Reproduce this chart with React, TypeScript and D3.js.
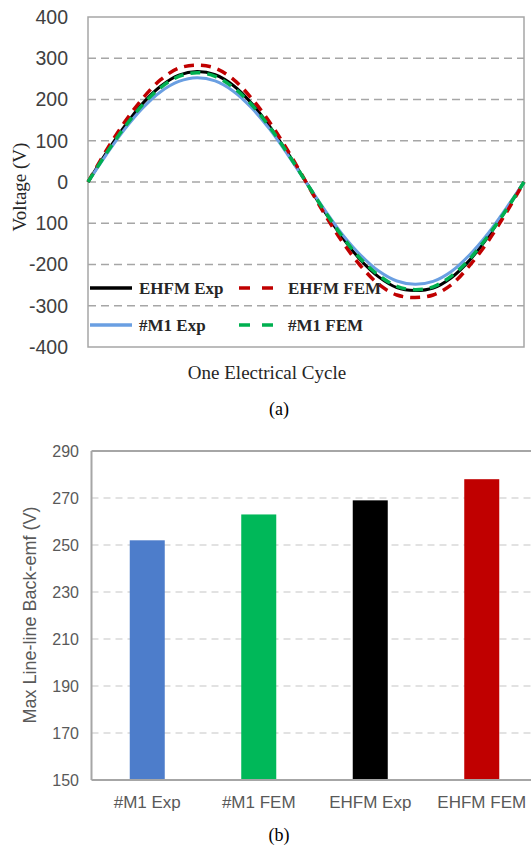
import React from "react";
import * as d3 from "d3";

// 電気角 (deg) — one electrical cycle
const angles = [0, 15, 30, 45, 60, 75, 90, 105, 120, 135, 150, 165, 180, 195, 210, 225, 240, 255, 270, 285, 300, 315, 330, 345, 360];
const ehfmExp = [0, 70, 134, 190, 232, 259, 268, 260, 234, 191, 135, 70, 0, -70, -134, -189, -230, -256, -263, -257, -232, -190, -134, -69, 0];
const ehfmFem = [0, 76, 144, 202, 248, 276, 283, 276, 249, 203, 145, 76, 0, -76, -145, -203, -248, -274, -280, -274, -249, -203, -145, -76, 0];
const m1Exp = [0, 66, 127, 179, 219, 244, 253, 245, 220, 180, 128, 66, 0, -66, -127, -177, -216, -240, -248, -241, -217, -177, -126, -65, 0];
const m1Fem = [0, 69, 132, 187, 229, 256, 265, 256, 229, 188, 133, 69, 0, -69, -132, -186, -226, -253, -261, -254, -228, -187, -132, -69, 0];

const voltTicks = [400, 300, 200, 100, 0, -100, -200, -300, -400];
const voltTickLabels = ["400", "300", "200", "100", "0", "100", "-200", "-300", "-400"];

const barNames = ["#M1 Exp", "#M1 FEM", "EHFM Exp", "EHFM FEM"];
const barValues = [252, 263, 269, 278];
const barTicks = [150, 170, 190, 210, 230, 250, 270, 290];

const lineSeries = [
  { name: "EHFM Exp", values: ehfmExp, color: "#000000", dash: "" },
  { name: "#M1 Exp", values: m1Exp, color: "#6A9FE2", dash: "" },
  { name: "EHFM FEM", values: ehfmFem, color: "#C00000", dash: "10,7" },
  { name: "#M1 FEM", values: m1Fem, color: "#00B050", dash: "10,7" },
];
const barColors = ["#4D7DCB", "#00B859", "#000000", "#C00000"];

const serif = "'Liberation Serif', 'Times New Roman', serif";
const sans = "'Liberation Sans', Arial, sans-serif";

const App: React.FC = () => {
  // (a) 波形
  const ax = { left: 88, right: 524, top: 17, bottom: 347 };
  const x = d3.scaleLinear().domain([0, 360]).range([ax.left, ax.right]);
  const y = d3.scaleLinear().domain([-400, 400]).range([ax.bottom, ax.top]);
  const line = d3
    .line<number>()
    .x((_, i) => x(angles[i]))
    .y((d) => y(d))
    .curve(d3.curveCatmullRom);

  // (b) 棒グラフ
  const bx = { left: 91.5, right: 537.5, top: 451, bottom: 780 };
  const xb = d3.scaleBand().domain(barNames).range([bx.left, bx.right]).paddingInner(0.686).paddingOuter(0.343);
  const yb = d3.scaleLinear().domain([150, 290]).range([bx.bottom, bx.top]);

  const legend = [
    { s: lineSeries[0], lx: 90, ty: 288 },
    { s: lineSeries[2], lx: 239, ty: 288 },
    { s: lineSeries[1], lx: 90, ty: 325 },
    { s: lineSeries[3], lx: 239, ty: 325 },
  ];

  return (
    <svg width={531} height={847} style={{ position: "absolute", left: 0, top: 0, background: "#fff" }}>
      <rect width={531} height={847} fill="#fff" />
      {/* grid (a) */}
      {voltTicks
        .filter((t) => t !== 400 && t !== -400)
        .map((t) => (
          <line key={t} x1={ax.left} x2={ax.right} y1={y(t)} y2={y(t)} stroke="#A6A6A6" strokeWidth={1.5} strokeDasharray="8,5" />
        ))}
      <rect x={ax.left} y={ax.top} width={ax.right - ax.left} height={ax.bottom - ax.top} fill="none" stroke="#A6A6A6" strokeWidth={1.5} />
      {voltTicks.map((t, i) => (
        <text key={t} x={68} y={y(t)} dy="0.35em" textAnchor="end" fontFamily={sans} fontSize={19.5} fill="#404040">
          {voltTickLabels[i]}
        </text>
      ))}
      {lineSeries.map((s) => (
        <path key={s.name} d={line(s.values) || ""} fill="none" stroke={s.color} strokeWidth={s.dash ? 3.5 : 3} strokeDasharray={s.dash || undefined} />
      ))}
      {legend.map(({ s, lx, ty }) => (
        <g key={s.name}>
          <line x1={lx} x2={lx + 42} y1={ty} y2={ty} stroke={s.color} strokeWidth={3.5} strokeDasharray={s.dash ? "11,12" : undefined} />
          <text x={lx + 49} y={ty} dy="0.35em" fontFamily={serif} fontWeight="bold" fontSize={17} fill="#262626">
            {s.name}
          </text>
        </g>
      ))}
      <text transform={`translate(19,${(ax.top + ax.bottom) / 2 + 5}) rotate(-90)`} textAnchor="middle" dy="0.35em" fontFamily={serif} fontSize={19} fill="#262626">
        Voltage (V)
      </text>
      <text x={267} y={372} dy="0.35em" textAnchor="middle" fontFamily={serif} fontSize={19} fill="#262626">
        One Electrical Cycle
      </text>
      <text x={279} y={409} dy="0.35em" textAnchor="middle" fontFamily={serif} fontSize={18} fill="#000">
        (a)
      </text>

      {/* grid (b) */}
      {barTicks
        .filter((t) => t !== 150 && t !== 290)
        .map((t) => (
          <line key={t} x1={bx.left} x2={531} y1={yb(t)} y2={yb(t)} stroke="#D9D9D9" strokeWidth={1.5} strokeDasharray="7,5" />
        ))}
      {barNames.map((n, i) => (
        <rect key={n} x={xb(n)} y={yb(barValues[i])} width={xb.bandwidth()} height={bx.bottom - yb(barValues[i])} fill={barColors[i]} />
      ))}
      <line x1={bx.left} x2={531} y1={bx.top} y2={bx.top} stroke="#A6A6A6" strokeWidth={2} />
      <line x1={bx.left} x2={531} y1={bx.bottom} y2={bx.bottom} stroke="#A6A6A6" strokeWidth={2} />
      <line x1={bx.left} x2={bx.left} y1={bx.top} y2={bx.bottom} stroke="#A6A6A6" strokeWidth={2} />
      {barTicks.map((t) => (
        <text key={t} x={79} y={yb(t)} dy="0.35em" textAnchor="end" fontFamily={sans} fontSize={16} fill="#595959">
          {t}
        </text>
      ))}
      {barNames.map((n) => (
        <text key={n} x={(xb(n) || 0) + xb.bandwidth() / 2} y={802} dy="0.35em" textAnchor="middle" fontFamily={sans} fontSize={17} fill="#595959">
          {n}
        </text>
      ))}
      <text transform={`translate(30,615) rotate(-90)`} textAnchor="middle" dy="0.35em" fontFamily={sans} fontSize={18} fill="#595959">
        Max Line-line Back-emf (V)
      </text>
      <text x={279} y={835} dy="0.35em" textAnchor="middle" fontFamily={serif} fontSize={18} fill="#000">
        (b)
      </text>
    </svg>
  );
};

export default App;
